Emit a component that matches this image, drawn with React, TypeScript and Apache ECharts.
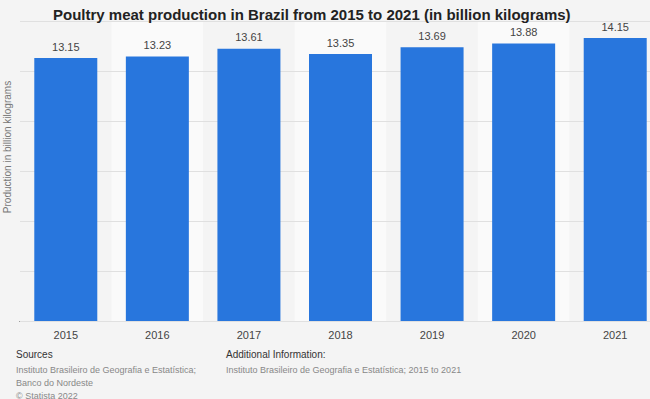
import React, { useEffect, useRef } from "react";
import * as echarts from "echarts";

const categories = ["2015", "2016", "2017", "2018", "2019", "2020", "2021"];
const values = [13.15, 13.23, 13.61, 13.35, 13.69, 13.88, 14.15];
const titleText = "Poultry meat production in Brazil from 2015 to 2021 (in billion kilograms)";
const yAxisName = "Production in billion kilograms";
const sourcesLines = ["Instituto Brasileiro de Geografia e Estatística;", "Banco do Nordeste", "© Statista 2022"];
const additionalLines = ["Instituto Brasileiro de Geografia e Estatística; 2015 to 2021"];

export default function App() {
  const ref = useRef<HTMLDivElement>(null);
  useEffect(() => {
    if (!ref.current) return;
    const chart = echarts.init(ref.current, null, { renderer: "svg" });
    const font = "'Liberation Sans', Arial, sans-serif";
    chart.setOption({
      animation: false,
      backgroundColor: "#f4f4f4",
      textStyle: { fontFamily: font },
      title: {
        text: titleText,
        left: 48,
        top: 2,
        textStyle: { fontSize: 15, fontWeight: "bold", color: "#222", fontFamily: font },
      },
      grid: { left: 20, right: -11, top: 21, bottom: 78, containLabel: false, outerBoundsMode: "none" },
      xAxis: {
        type: "category",
        data: categories,
        z: 0,
        axisLine: { show: true, lineStyle: { color: "#222", width: 1 } },
        axisTick: { show: false },
        axisLabel: { color: "#444", fontSize: 11, margin: 8, fontFamily: font },
        splitArea: { show: true, areaStyle: { color: ["#f4f4f4", "#fafafa"] } },
      },
      yAxis: {
        type: "value",
        min: 0,
        max: 15,
        interval: 2.5,
        z: 1,
        axisLabel: { show: false },
        axisLine: { show: false },
        axisTick: { show: false },
        splitLine: { show: true, lineStyle: { color: "#e0e0e0", width: 1 } },
      },
      series: [
        {
          type: "bar",
          data: values,
          barWidth: 63,
          z: 3,
          itemStyle: { color: "#2876dd" },
          label: {
            show: true,
            position: "top",
            distance: 6,
            color: "#444",
            fontSize: 11,
            fontFamily: font,
            formatter: (p: any) => p.value.toFixed(2),
          },
        },
      ],
      graphic: [
        {
          type: "text",
          x: 7,
          y: 147,
          rotation: Math.PI / 2,
          style: { text: yAxisName, fontSize: 10, fill: "#777", fontFamily: font, align: "center", verticalAlign: "middle" },
        },
        { type: "text", left: 16, top: 349, style: { text: "Sources", fontSize: 10, fill: "#333", fontFamily: font } },
        {
          type: "text",
          left: 16,
          top: 363,
          style: { text: sourcesLines.join("\n"), fontSize: 9, lineHeight: 13, fill: "#888", fontFamily: font },
        },
        { type: "text", left: 226, top: 349, style: { text: "Additional Information:", fontSize: 10, fill: "#333", fontFamily: font } },
        {
          type: "text",
          left: 226,
          top: 363,
          style: { text: additionalLines.join("\n"), fontSize: 9, lineHeight: 13, fill: "#888", fontFamily: font },
        },
      ],
    });
    return () => chart.dispose();
  }, []);
  return <div ref={ref} style={{ width: 650, height: 399, position: "absolute", left: 0, top: 0 }} />;
}
